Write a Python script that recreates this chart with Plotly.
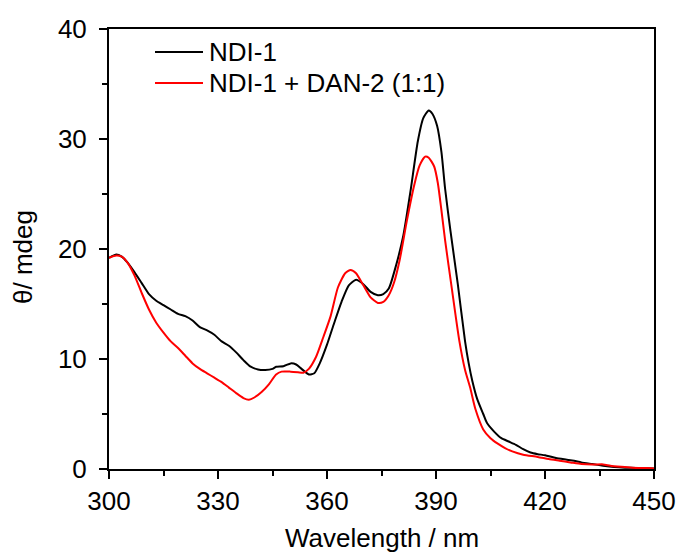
import plotly.graph_objects as go

# NDI-1 (black)
wl_ndi = [300, 302, 303.5, 305, 307, 309, 311, 313, 315, 317, 319, 321, 323, 325, 327, 329,
          331, 333, 335, 337, 339, 341, 343, 345, 346, 348, 350, 351.5, 353, 355, 356.5, 358,
          360, 362, 364, 366, 368, 370, 372, 374, 375.5, 377, 379, 381, 383, 385, 386.5, 388,
          389, 390.3, 391.5, 392.5, 394, 396, 398, 399, 400, 401.3, 403, 404, 406, 408, 410,
          412, 414, 416, 418, 420, 423, 426, 428, 430, 433, 436, 439, 442, 445, 450]
cd_ndi = [19.2, 19.5, 19.3, 18.8, 17.9, 16.9, 15.9, 15.3, 14.9, 14.5, 14.1, 13.9, 13.5, 12.9,
          12.6, 12.2, 11.6, 11.2, 10.6, 9.9, 9.3, 9.05, 9.0, 9.1, 9.3, 9.35, 9.6, 9.5, 9.1, 8.6,
          8.7, 9.6, 11.3, 13.3, 15.2, 16.7, 17.2, 16.8, 16.1, 15.8, 15.9, 16.4, 18.5, 21.2, 25.3,
          29.8, 31.9, 32.6, 32.3, 31.2, 28.8, 25.5, 21.6, 16.8, 11.6, 9.6, 8.0, 6.4, 5.0, 4.2,
          3.4, 2.8, 2.5, 2.2, 1.8, 1.5, 1.35, 1.25, 1.0, 0.85, 0.75, 0.6, 0.45, 0.3, 0.18, 0.12,
          0.1, 0.05]

# NDI-1 + DAN-2 (1:1) (red)
wl_mix = [300, 302, 303.5, 305, 307, 309, 311, 313, 315, 317, 319, 321, 323, 325, 327, 329,
          331, 333, 335, 337, 338.5, 340, 342, 344, 346, 347.5, 350, 352, 353.5, 355, 357, 359,
          361, 363, 365, 366.5, 368, 370, 372, 374, 375.5, 377, 378.5, 380, 382, 384, 385.5,
          387, 388, 389.5, 390.5, 391.5, 392.5, 394.4, 396.4, 398, 399.4, 400.8, 403, 405, 407,
          409, 411, 414, 418, 421, 424, 427, 430, 433, 436, 438, 441, 444, 448, 450]
cd_mix = [19.2, 19.4, 19.3, 18.8, 17.6, 16.0, 14.5, 13.3, 12.4, 11.6, 11.0, 10.3, 9.6, 9.1,
          8.7, 8.3, 7.9, 7.4, 6.9, 6.45, 6.3, 6.5, 7.0, 7.7, 8.6, 8.85, 8.85, 8.8, 8.75, 9.1,
          10.2, 12.0, 13.9, 16.5, 17.8, 18.1, 17.8, 16.7, 15.6, 15.1, 15.2, 15.8, 17.0, 19.0,
          22.6, 25.8, 27.6, 28.4, 28.3, 27.5, 26.0, 23.5, 20.8, 16.3, 11.7, 9.0, 7.4, 5.5, 3.6,
          2.8, 2.3, 1.9, 1.6, 1.3, 1.1, 0.9, 0.75, 0.6, 0.45, 0.4, 0.42, 0.3, 0.2, 0.12, 0.08,
          0.05]

names = ["NDI-1", "NDI-1 + DAN-2 (1:1)"]
colors = ["#000000", "#ff0000"]
x_title = "Wavelength / nm"
y_title = "θ/ mdeg"

FONT = "Liberation Sans, Arial, sans-serif"
FS = 26

fig = go.Figure()
fig.add_trace(go.Scatter(x=wl_ndi, y=cd_ndi, mode="lines", name=names[0],
                         line=dict(color=colors[0], width=2, shape="spline", smoothing=0.6),
                         showlegend=False))
fig.add_trace(go.Scatter(x=wl_mix, y=cd_mix, mode="lines", name=names[1],
                         line=dict(color=colors[1], width=2, shape="spline", smoothing=0.6),
                         showlegend=False))

W, H = 679, 554
L, R, T, B = 109, 25, 29, 85
pw, ph = W - L - R, H - T - B
def px2paper(xp, yp):
    return (xp - L) / pw, (H - B - yp) / ph

# manual legend
for i, yp in enumerate([52, 83]):
    x0, y0 = px2paper(155, yp)
    x1, _ = px2paper(203, yp)
    fig.add_shape(type="line", xref="paper", yref="paper", x0=x0, x1=x1, y0=y0, y1=y0,
                  line=dict(color=colors[i], width=2))
    tx, _ = px2paper(207, yp)
    fig.add_annotation(xref="paper", yref="paper", x=tx, y=y0, text=names[i],
                       showarrow=False, xanchor="left", yanchor="middle",
                       font=dict(family=FONT, size=FS, color="black"))

# axis titles
tx, ty = px2paper(382, 538)
fig.add_annotation(xref="paper", yref="paper", x=tx, y=ty, text=x_title, showarrow=False,
                   xanchor="center", yanchor="middle", font=dict(family=FONT, size=FS, color="black"))
tx, ty = px2paper(23, 257)
fig.add_annotation(xref="paper", yref="paper", x=tx, y=ty, text=y_title, showarrow=False,
                   textangle=-90, xanchor="center", yanchor="middle",
                   font=dict(family=FONT, size=FS, color="black"))

axis_common = dict(showline=True, linecolor="black", linewidth=2, mirror=True,
                   showgrid=False, zeroline=False, ticks="outside", ticklen=8, tickwidth=2,
                   tickcolor="black", tickfont=dict(family=FONT, size=FS, color="black"),
                   automargin=False)

fig.update_xaxes(range=[300, 450], tickvals=[300, 330, 360, 390, 420, 450],
                 minor=dict(ticks="outside", ticklen=5, tickwidth=2, tickcolor="black", dtick=15, tick0=300),
                 ticklabelstandoff=0, **axis_common)
fig.update_yaxes(range=[0, 40], tickvals=[0, 10, 20, 30, 40],
                 minor=dict(ticks="outside", ticklen=5, tickwidth=2, tickcolor="black", dtick=5, tick0=0),
                 ticklabelstandoff=7, **axis_common)

fig.update_layout(width=W, height=H, margin=dict(l=L, r=R, t=T, b=B, autoexpand=False),
                  plot_bgcolor="white", paper_bgcolor="white",
                  font=dict(family=FONT, size=FS, color="black"))

fig.write_html("out.html", config={"displayModeBar": False},
               post_script="document.body.style.margin='0';document.body.style.overflow='hidden';")
